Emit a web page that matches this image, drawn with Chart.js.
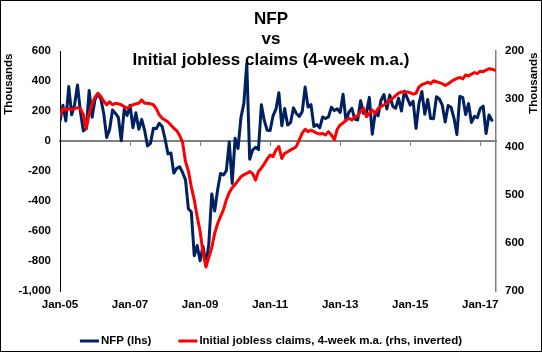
<!DOCTYPE html>
<html lang="en">

<head>
    <meta charset="UTF-8">
    <title>NFP vs Initial jobless claims</title>
    <script src="https://cdn.jsdelivr.net/npm/chart.js"></script>
    <style>
        body {
            margin: 0;
            background: #fff;
        }

        .chart-box {
            width: 540px;
            height: 350px;
            border: 1px solid #000;
        }
    </style>
</head>

<body>
    <div class="chart-box">
        <canvas id="nfpChart" width="540" height="350"></canvas>
    </div>

    <script>
        // x values are months counted from Jan-05
        const tickLabels = ['Jan-05', 'Jan-07', 'Jan-09', 'Jan-11', 'Jan-13', 'Jan-15', 'Jan-17'];

        // NFP, thousands, Jan-05 .. May-17
        const nfp = [
            134, 239, 134, 363, 175, 243, 373, 195, 67, 84, 337, 159,
            277, 315, 280, 182, 23, 77, 207, 184, 157, 2, 210, 171,
            238, 88, 188, 78, 144, 71, -33, -16, 85, 82, 118, 97,
            15, -86, -80, -214, -182, -172, -210, -259, -452, -474, -765, -697,
            -798, -701, -826, -684, -354, -467, -327, -216, -227, -198, -6, -283,
            18, -50, 156, 251, 516, -122, -61, -42, -57, 241, 137, 71,
            70, 168, 212, 322, 102, 217, 106, 122, 221, 183, 164, 196,
            360, 226, 243, 96, 110, 88, 160, 150, 161, 225, 203, 214,
            190, 311, 135, 192, 218, 146, 140, 269, 185, 189, 291, 45,
            187, 168, 272, 310, 213, 306, 232, 218, 286, 200, 331, 286,
            239, 265, 84, 250, 330, 178, 277, 150, 149, 295, 280, 239,
            126, 237, 225, 153, 43, 297, 291, 176, 249, 124, 164, 155,
            216, 232, 50, 174, 138
        ];

        // initial jobless claims 4-week m.a., thousands, Jan-05 .. Jun-17
        const claims = [
            333, 320, 323, 320, 322, 320, 318, 320, 332, 362, 330, 310,
            296, 288, 295, 305, 312, 306, 312, 309, 310, 312, 316, 319,
            316, 312, 310, 309, 302, 309, 309, 310, 312, 320, 333, 340,
            344, 348, 354, 361, 366, 376, 390, 430, 450, 483, 510, 545,
            575, 620, 650, 630, 610, 580, 560, 545, 531, 510, 495, 485,
            478, 470, 462, 458, 455, 451, 455, 469, 451, 444, 435, 425,
            417, 420, 406, 399, 424, 413, 410, 406, 403, 399, 385, 371,
            363, 368, 365, 368, 371, 373, 372, 375, 368, 375, 385, 363,
            354, 350, 344, 340, 344, 337, 335, 326, 319, 337, 330, 323,
            330, 320, 316, 312, 309, 302, 299, 293, 288, 285, 287, 285,
            287, 290, 288, 275, 270, 268, 265, 268, 262, 264, 266, 268,
            272, 268, 264, 260, 257, 255, 258, 250, 252, 248, 245, 247,
            242, 243, 240, 237, 238, 240
        ];

        const FONT = '"Liberation Sans", Arial, sans-serif';
        const xMax = 149.4;

        const textPlugin = {
            id: 'chartTexts',
            afterDatasetsDraw(chart) {
                const ctx = chart.ctx;
                ctx.save();
                ctx.fillStyle = '#000';
                ctx.textAlign = 'center';
                ctx.textBaseline = 'middle';
                ctx.font = 'bold 17px ' + FONT;
                const cx = chart.width / 2;
                ctx.fillText('NFP', cx, 18);
                ctx.fillText('vs', cx, 38);
                ctx.fillText('Initial jobless claims (4-week m.a.)', cx, 59.5);

                // axis titles, both read bottom to top
                ctx.font = 'bold 11.5px ' + FONT;
                ctx.textAlign = 'right';
                [[7.5, 52.5], [533, 51.5]].forEach(p => {
                    ctx.save();
                    ctx.translate(p[0], p[1]);
                    ctx.rotate(-Math.PI / 2);
                    ctx.fillText('Thousands', 0, 0);
                    ctx.restore();
                });
                ctx.restore();
            },
            afterDraw(chart) {
                // legend under the axis
                const ctx = chart.ctx;
                const y = 340;
                const lineLen = 19, gap = 2, itemGap = 27;
                ctx.save();
                ctx.font = 'bold 11.5px ' + FONT;
                ctx.textBaseline = 'middle';
                ctx.textAlign = 'left';
                const items = chart.data.datasets.map(ds => ({
                    text: ds.label,
                    color: ds.borderColor,
                    w: ctx.measureText(ds.label).width
                }));
                let total = 0;
                items.forEach((it, i) => {
                    total += lineLen + gap + it.w + (i ? itemGap : 0);
                });
                let x = (chart.width - total) / 2;
                items.forEach((it, i) => {
                    if (i) x += itemGap;
                    ctx.strokeStyle = it.color;
                    ctx.lineWidth = 3;
                    ctx.beginPath();
                    ctx.moveTo(x, y);
                    ctx.lineTo(x + lineLen, y);
                    ctx.stroke();
                    x += lineLen + gap;
                    ctx.fillStyle = '#000';
                    ctx.fillText(it.text, x, y);
                    x += it.w;
                });
                ctx.restore();
            }
        };

        const ctx = document.getElementById('nfpChart').getContext('2d');
        new Chart(ctx, {
            type: 'line',
            data: {
                datasets: [{
                    label: 'NFP (lhs)',
                    data: nfp.map((v, i) => ({ x: i, y: v })),
                    borderColor: '#002060',
                    borderWidth: 3,
                    xAxisID: 'x',
                    yAxisID: 'y',
                    order: 1
                }, {
                    label: 'Initial jobless claims, 4-week m.a. (rhs, inverted)',
                    data: claims.map((v, i) => ({ x: i, y: v })),
                    borderColor: '#ff0000',
                    borderWidth: 3,
                    xAxisID: 'x',
                    yAxisID: 'y1',
                    order: 0
                }]
            },
            options: {
                responsive: false,
                animation: false,
                devicePixelRatio: 1,
                layout: {
                    padding: { top: 50, left: 0, right: 0, bottom: 0 }
                },
                elements: {
                    point: { radius: 0 },
                    line: { tension: 0, borderJoinStyle: 'round', borderCapStyle: 'round' }
                },
                plugins: {
                    legend: { display: false },
                    tooltip: { enabled: false }
                },
                scales: {
                    x: {
                        type: 'linear',
                        position: 'bottom',
                        min: 0,
                        max: xMax,
                        grid: { display: false, drawTicks: false },
                        border: { display: false },
                        ticks: {
                            stepSize: 24,
                            includeBounds: false,
                            autoSkip: false,
                            maxRotation: 0,
                            padding: 7,
                            color: '#000',
                            font: { family: FONT, size: 11.5, weight: 'bold' },
                            callback: v => tickLabels[v / 24]
                        },
                        afterFit: s => { s.height = 60; }
                    },
                    xz: {
                        type: 'linear',
                        position: { y: 0 },
                        min: 0,
                        max: xMax,
                        grid: {
                            drawOnChartArea: false,
                            drawTicks: true,
                            tickLength: 4,
                            color: '#808080'
                        },
                        border: { display: true, color: '#808080', width: 2 },
                        ticks: { display: false, stepSize: 24, includeBounds: false }
                    },
                    y: {
                        position: 'left',
                        min: -1000,
                        max: 600,
                        grid: { display: false, drawTicks: false },
                        border: { display: true, color: '#000', width: 1 },
                        ticks: {
                            stepSize: 200,
                            padding: 9,
                            color: '#000',
                            font: { family: FONT, size: 11.5, weight: 'bold' },
                            callback: v => v.toLocaleString('en-US')
                        },
                        afterFit: s => { s.width = 59; }
                    },
                    y1: {
                        position: 'right',
                        reverse: true,
                        min: 200,
                        max: 700,
                        grid: { display: false, drawTicks: false },
                        border: { display: true, color: '#808080', width: 1.5 },
                        ticks: {
                            stepSize: 100,
                            padding: 9,
                            color: '#000',
                            font: { family: FONT, size: 11.5, weight: 'bold' }
                        },
                        afterFit: s => { s.width = 45; }
                    }
                }
            },
            plugins: [textPlugin]
        });
    </script>
</body>

</html>
